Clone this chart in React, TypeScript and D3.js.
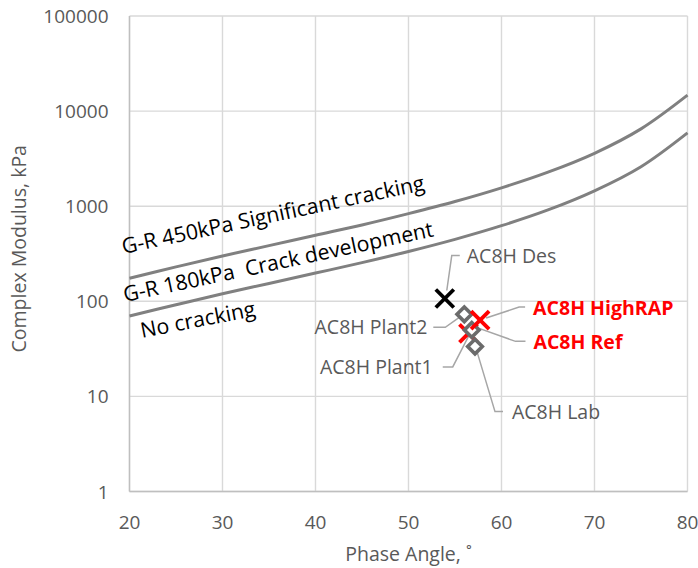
import React from "react";
import * as d3 from "d3";

// Glover-Rowe threshold curves (phase angle in degrees, |G*| in kPa)
const curvePhase = [20, 25, 30, 35, 40, 45, 50, 55, 60, 65, 70, 75, 80];
const gr450 = [175, 230, 300, 385, 495, 635, 835, 1120, 1560, 2280, 3600, 6500, 14700];
const gr180 = [70, 92, 120, 154, 198, 255, 334, 448, 624, 913, 1450, 2600, 5900];

// Mixture results
const mixNames = ["AC8H Des", "AC8H Ref", "AC8H Plant2", "AC8H Plant1", "AC8H Lab", "AC8H HighRAP"];
const mixPhase = [53.9, 56.45, 56.0, 56.8, 57.15, 57.7];
const mixModulus = [107, 46, 73, 50, 33.4, 63.5];
const mixMarker = ["cross", "cross", "diamond", "diamond", "diamond", "cross"];
const mixColor = ["#000000", "#ff0000", "#6b6b6b", "#6b6b6b", "#6b6b6b", "#ff0000"];

// Label placement relative to each point: text anchor, offset, leader polyline
const labelAnchor = ["start", "start", "end", "end", "start", "start"];
const labelOffset: [number, number][] = [[22, -43], [65, 9], [-37, 13], [-39, 37], [37, 65], [53, -12]];
const leaderOffsets: [number, number][][] = [
  [[15, -43], [7, -43], [2, -8]],
  [[57, 8], [47, 8], [5, -7]],
  [[-31, 13], [-19, 13], [-5, 3]],
  [[-29, 37], [-19, 37], [-3, 6]],
  [[28, 65], [20, 65], [2, 5]],
  [[45, -13], [39, -13], [6, -2]],
];
const labelBold = [false, true, false, false, false, true];

const xTicks = [20, 30, 40, 50, 60, 70, 80];
const yTicks = [1, 10, 100, 1000, 10000, 100000];

const W = 698;
const H = 568;
const left = 129.5;
const right = 687.5;
const top = 16;
const bottom = 491.5;
const FONT = "'Open Sans', sans-serif";

export default function App() {
  const x = d3.scaleLinear().domain([20, 80]).range([left, right]);
  const y = d3.scaleLog().domain([1, 100000]).range([bottom, top]);

  const line = d3
    .line<[number, number]>()
    .x((d) => x(d[0]))
    .y((d) => y(d[1]))
    .curve(d3.curveCatmullRom.alpha(0.5));

  const upper = line(curvePhase.map((p, i) => [p, gr450[i]]) as [number, number][]) || "";
  const lower = line(curvePhase.map((p, i) => [p, gr180[i]]) as [number, number][]) || "";

  const crossArm = 9;
  const diamond = 7.3;

  const order = [0, 1, 2, 3, 4, 5];

  return (
    <svg
      width={W}
      height={H}
      style={{ position: "absolute", left: 0, top: 0, background: "#fff" }}
      fontFamily={FONT}
    >
      <rect width={W} height={H} fill="#fff" />
      {/* gridlines */}
      {xTicks.map((t) => (
        <line key={"gx" + t} x1={x(t)} x2={x(t)} y1={top} y2={bottom} stroke="#d9d9d9" strokeWidth={1.4} />
      ))}
      {yTicks.map((t) => (
        <line key={"gy" + t} x1={left} x2={right} y1={y(t)} y2={y(t)} stroke="#d9d9d9" strokeWidth={1.4} />
      ))}
      {/* axis lines */}
      <line x1={left} x2={left} y1={top} y2={bottom} stroke="#bfbfbf" strokeWidth={1.4} />
      <line x1={left} x2={right} y1={bottom} y2={bottom} stroke="#bfbfbf" strokeWidth={1.4} />

      {/* tick labels */}
      {xTicks.map((t) => (
        <text key={"tx" + t} x={x(t)} y={529} textAnchor="middle" fontSize={19} fill="#595959">
          {t}
        </text>
      ))}
      {yTicks.map((t) => (
        <text key={"ty" + t} x={108.5} y={y(t) + 7} textAnchor="end" fontSize={19} fill="#595959">
          {t}
        </text>
      ))}

      {/* axis titles */}
      <text x={(left + right) / 2} y={561} textAnchor="middle" fontSize={19.5} fill="#595959">
        Phase Angle, ˚
      </text>
      <text
        transform={`translate(26, ${(top + bottom) / 2 - 5}) rotate(-90)`}
        textAnchor="middle"
        fontSize={19.5}
        fill="#595959"
      >
        Complex Modulus, kPa
      </text>

      {/* G-R curves */}
      <path d={upper} fill="none" stroke="#808080" strokeWidth={3} />
      <path d={lower} fill="none" stroke="#808080" strokeWidth={3} />

      {/* zone labels */}
      <text transform="translate(123.5, 254) rotate(-12)" fontSize={21.3} fill="#000">
        G-R 450kPa Significant cracking
      </text>
      <text transform="translate(125, 302) rotate(-12)" fontSize={21.3} fill="#000" style={{ whiteSpace: "pre" }}>
        {"G-R 180kPa  Crack development"}
      </text>
      <text transform="translate(142, 338) rotate(-11)" fontSize={21.3} fill="#000">
        No cracking
      </text>

      {/* leader lines */}
      {order.map((i) => {
        const px = x(mixPhase[i]);
        const py = y(mixModulus[i]);
        const pts = leaderOffsets[i].map(([dx, dy]) => [px + dx, py + dy].join(",")).join(" ");
        return <polyline key={"ld" + i} points={pts} fill="none" stroke="#a6a6a6" strokeWidth={1.5} />;
      })}

      {/* markers */}
      {order.map((i) => {
        const px = x(mixPhase[i]);
        const py = y(mixModulus[i]);
        if (mixMarker[i] === "cross") {
          return (
            <g key={"mk" + i} stroke={mixColor[i]} strokeWidth={3.8}>
              <line x1={px - crossArm} y1={py - crossArm} x2={px + crossArm} y2={py + crossArm} />
              <line x1={px - crossArm} y1={py + crossArm} x2={px + crossArm} y2={py - crossArm} />
            </g>
          );
        }
        return (
          <path
            key={"mk" + i}
            d={`M${px},${py - diamond}L${px + diamond},${py}L${px},${py + diamond}L${px - diamond},${py}Z`}
            fill="#fff"
            stroke={mixColor[i]}
            strokeWidth={3.6}
          />
        );
      })}

      {/* point labels */}
      {order.map((i) => {
        const px = x(mixPhase[i]);
        const py = y(mixModulus[i]);
        const red = mixColor[i] === "#ff0000";
        return (
          <text
            key={"lb" + i}
            x={px + labelOffset[i][0]}
            y={py + labelOffset[i][1] + 7}
            textAnchor={labelAnchor[i] as any}
            fontSize={19.5}
            fontWeight={labelBold[i] ? 700 : 400}
            fill={red ? "#ff0000" : "#595959"}
          >
            {mixNames[i]}
          </text>
        );
      })}
    </svg>
  );
}
